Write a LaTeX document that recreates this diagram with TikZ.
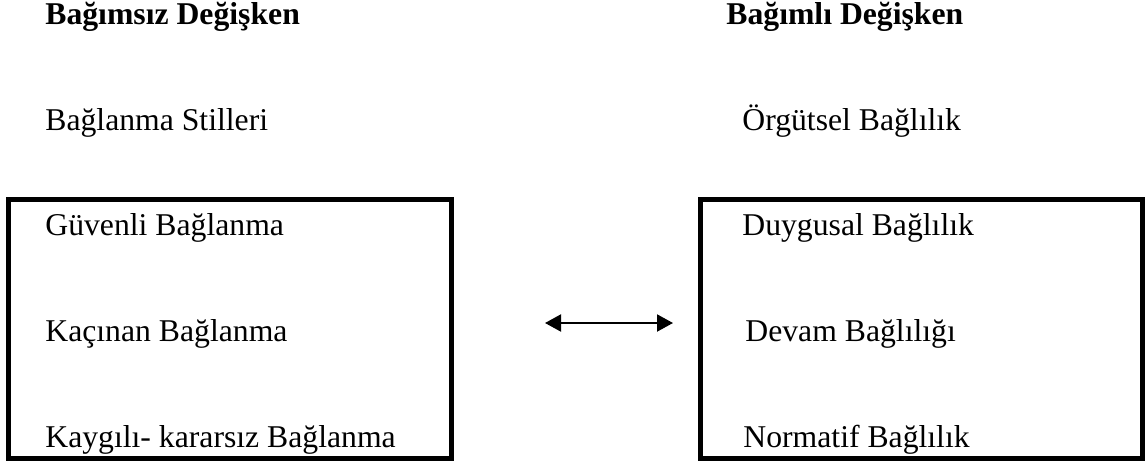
\documentclass[tikz,border=0pt]{standalone}
\usepackage{fontspec}
\setmainfont{Liberation Serif}
\usetikzlibrary{arrows.meta}
\begin{document}
\begin{tikzpicture}[x=0.5pt,y=-0.5pt,
  lbl/.style={anchor=base west,inner sep=0pt,font=\fontsize{15.85}{19}\selectfont},
  head/.style={lbl,font=\fontsize{15.85}{19}\selectfont\bfseries},
  frame/.style={draw,line width=2.5pt,inner sep=0pt,minimum height=129.5pt},
  link/.style={line width=1pt,{Triangle[length=8pt,width=8.5pt]}-{Triangle[length=8pt,width=8.5pt]}}]
\useasboundingbox (0,0) rectangle (1145,466);
% boxes
\node[frame,minimum width=221.5pt] (L) at (229.5,328.5) {};
\node[frame,minimum width=221pt] (R) at (921,328.5) {};
% headings
\node[head] (h1) at (45,25) {Bağımsız Değişken};
\node[head] (h2) at (726,25) {Bağımlı Değişken};
% sub headings
\node[lbl] (s1) at (45,130) {Bağlanma Stilleri};
\node[lbl] (s2) at (742,130) {Örgütsel Bağlılık};
% left items
\node[lbl] (l1) at (45,235) {Güvenli Bağlanma};
\node[lbl] (l2) at (45,341) {Kaçınan Bağlanma};
\node[lbl] (l3) at (45,447) {Kaygılı- kararsız Bağlanma};
% right items
\node[lbl] (r1) at (742,235) {Duygusal Bağlılık};
\node[lbl] (r2) at (745,341) {Devam Bağlılığı};
\node[lbl] (r3) at (743,447) {Normatif Bağlılık};
% arrow
\coordinate (a1) at (545,323);
\coordinate (a2) at (673,323);
\draw[link] (a1) -- (a2);
\end{tikzpicture}
\end{document}
